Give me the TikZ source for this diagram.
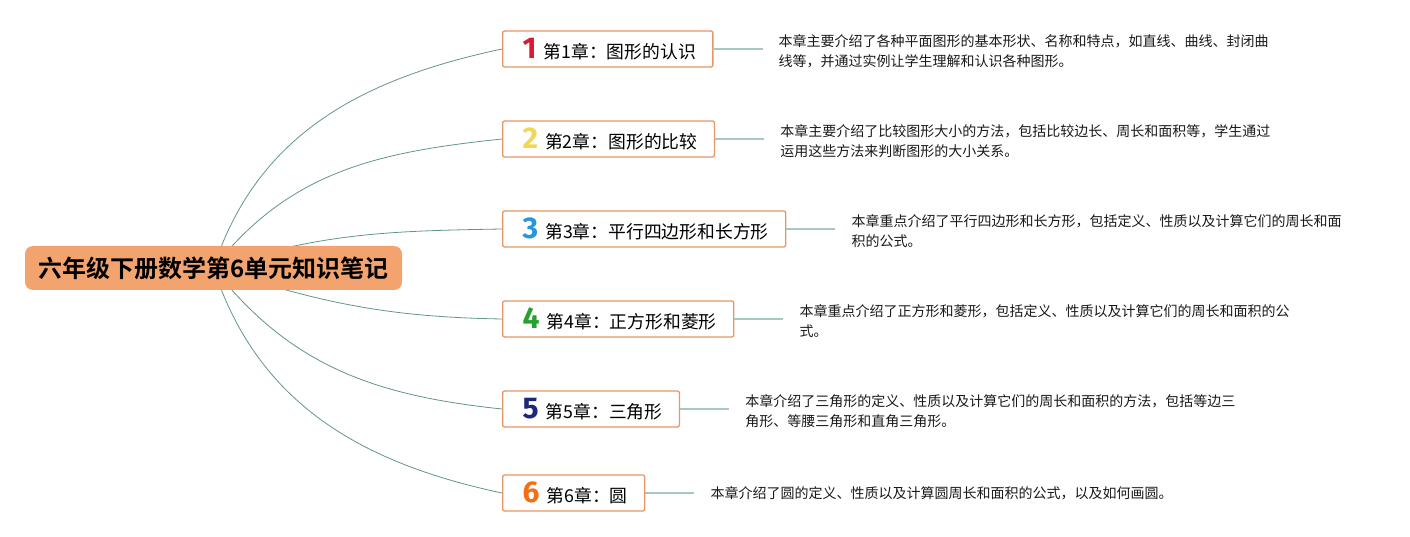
\documentclass[tikz,border=0pt]{standalone}
\usepackage{fontspec}
\setmainfont{Noto Sans CJK SC}[BoldFont={Noto Sans CJK SC Bold}]
\newfontfamily\digitfont{Fira Sans}
\usetikzlibrary{positioning,backgrounds}

\begin{document}
\begin{tikzpicture}[x=1pt,y=1pt,
    rootbox/.style={fill=rootcol, rounded corners=8pt, minimum width=377pt, minimum height=44pt,
        font=\bfseries\fontsize{24}{26}\selectfont, text=black},
    chapbox/.style={draw=boxline, fill=white, line width=1.3pt, rounded corners=2pt,
        minimum height=36pt, inner xsep=17pt, anchor=west, font=\fontsize{17.8}{20}\selectfont},
    note/.style={right=49pt of #1, anchor=west, align=left, inner xsep=16pt, inner ysep=0pt,
        yshift=-2pt, font=\fontsize{14}{20}\selectfont, text=black!90},
    lline/.style={draw=leftline, line width=0.8pt},
    rline/.style={draw=rightline, line width=1.2pt}]

    % Definindo cores
    \definecolor{rootcol}{RGB}{243, 164, 110}
    \definecolor{boxline}{RGB}{232, 150, 100}
    \definecolor{leftline}{RGB}{95, 150, 135}
    \definecolor{rightline}{RGB}{165, 200, 195}
    \definecolor{num1}{RGB}{220, 25, 50}
    \definecolor{num2}{RGB}{240, 215, 85}
    \definecolor{num3}{RGB}{40, 150, 220}
    \definecolor{num4}{RGB}{40, 160, 45}
    \definecolor{num5}{RGB}{30, 40, 120}
    \definecolor{num6}{RGB}{245, 110, 20}
    \newcommand{\chapnum}[2]{\hspace{3pt}{\digitfont\bfseries\color{#1}\fontsize{30}{30}\selectfont #2}\hspace{7pt}}

    \useasboundingbox (0,0) rectangle (1410,536);

    % 1. Tema central
    \node[rootbox] (root) at (213.5, 268) {六年级下册数学第6单元知识笔记};

    % 2. Capitulos
    \node[chapbox] (c1) at (502, 487) {\chapnum{num1}{1}第1章：图形的认识};
    \node[chapbox] (c2) at (502, 397) {\chapnum{num2}{2}第2章：图形的比较};
    \node[chapbox] (c3) at (502, 307) {\chapnum{num3}{3}第3章：平行四边形和长方形};
    \node[chapbox] (c4) at (502, 217) {\chapnum{num4}{4}第4章：正方形和菱形};
    \node[chapbox] (c5) at (502, 127) {\chapnum{num5}{5}第5章：三角形};
    \node[chapbox] (c6) at (502, 43) {\chapnum{num6}{6}第6章：圆};

    % 3. Notas
    \node[note=c1] (d1) {本章主要介绍了各种平面图形的基本形状、名称和特点，如直线、曲线、封闭曲\\线等，并通过实例让学生理解和认识各种图形。};
    \node[note=c2] (d2) {本章主要介绍了比较图形大小的方法，包括比较边长、周长和面积等，学生通过\\运用这些方法来判断图形的大小关系。};
    \node[note=c3] (d3) {本章重点介绍了平行四边形和长方形，包括定义、性质以及计算它们的周长和面\\积的公式。};
    \node[note=c4] (d4) {本章重点介绍了正方形和菱形，包括定义、性质以及计算它们的周长和面积的公\\式。};
    \node[note=c5] (d5) {本章介绍了三角形的定义、性质以及计算它们的周长和面积的方法，包括等边三\\角形、等腰三角形和直角三角形。};
    \node[note=c6, yshift=2pt] (d6) {本章介绍了圆的定义、性质以及计算圆周长和面积的公式，以及如何画圆。};

    % 4. Ligacoes
    \begin{scope}[on background layer]
        \draw[lline] (root.center) to[out=72, in=192] (c1.west);
        \draw[lline] (root.center) to[out=52, in=186] (c2.west);
        \draw[lline] (root.center) to[out=18, in=181] (c3.west);
        \draw[lline] (root.center) to[out=-18, in=179] (c4.west);
        \draw[lline] (root.center) to[out=-52, in=174] (c5.west);
        \draw[lline] (root.center) to[out=-72, in=168] (c6.west);
    \end{scope}
    \foreach \i in {1,...,6}
        \draw[rline] (c\i.east) -- (c\i.east -| d\i.west);

\end{tikzpicture}
\end{document}
